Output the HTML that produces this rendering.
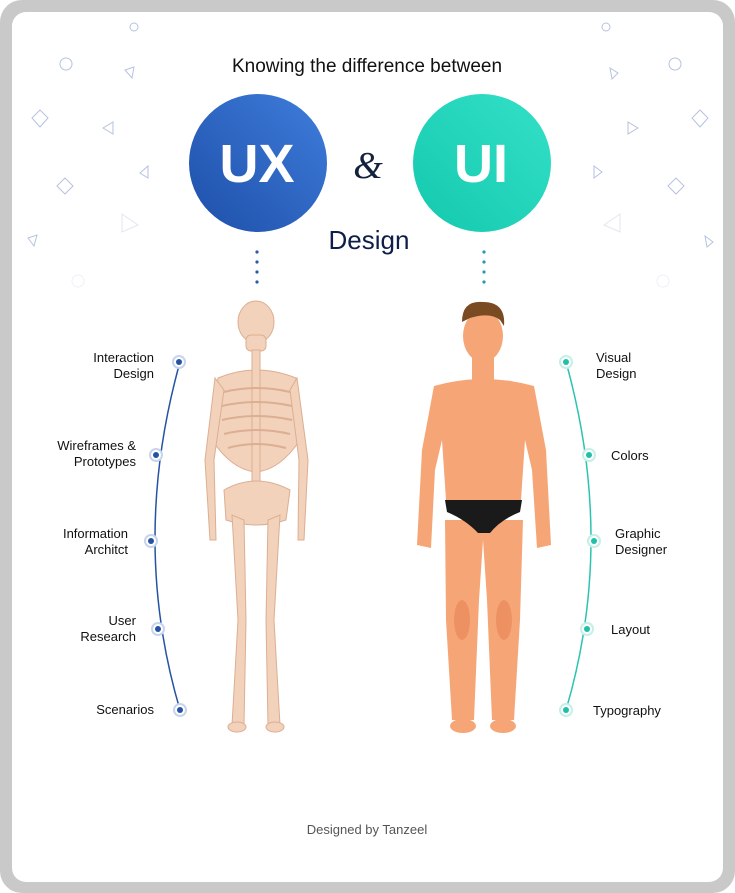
<!DOCTYPE html>
<html><head><meta charset="utf-8"><style>
html,body{margin:0;padding:0;background:#fff}
body{width:735px;height:893px;overflow:hidden;position:relative;font-family:"Liberation Sans",sans-serif}
</style></head><body>
<svg width="735" height="893" viewBox="0 0 735 893" xmlns="http://www.w3.org/2000/svg" style="position:absolute;left:0;top:0">
<defs>
<linearGradient id="gux" x1="1" y1="0" x2="0" y2="1"><stop offset="0" stop-color="#3f7ddc"/><stop offset="1" stop-color="#1d4fa8"/></linearGradient>
<linearGradient id="gui" x1="1" y1="0" x2="0" y2="1"><stop offset="0" stop-color="#33e0c8"/><stop offset="1" stop-color="#14c9ad"/></linearGradient>
</defs>
<rect x="0" y="0" width="735" height="893" rx="22" fill="#c9c9c9"/>
<rect x="12" y="12" width="711" height="870" rx="14" fill="#fff"/>
<g fill="none" stroke="#b5c2e0" stroke-width="1">
<circle cx="134" cy="27" r="4"/><circle cx="606" cy="27" r="4"/>
<circle cx="66" cy="64" r="6"/><circle cx="675" cy="64" r="6"/>
<path d="M125 70 L134 67 L132 78 Z"/><path d="M610 68 L618 73 L612 79 Z"/>
<path d="M40 110 L48 118 L40 127 L32 118 Z"/><path d="M700 110 L708 118 L700 127 L692 118 Z"/>
<path d="M103 128 L113 122 L113 134 Z"/><path d="M628 122 L638 128 L628 134 Z"/>
<path d="M65 178 L73 186 L65 194 L57 186 Z"/><path d="M676 178 L684 186 L676 194 L668 186 Z"/>
<path d="M140 173 L148 166 L148 178 Z"/><path d="M594 166 L602 172 L594 178 Z"/>
<path d="M122 214 L138 225 L122 232 Z" stroke="#e2e6f2"/><path d="M620 214 L604 225 L620 232 Z" stroke="#e2e6f2"/>
<path d="M28 238 L37 235 L34 246 Z"/><path d="M705 236 L713 242 L707 247 Z"/>
<circle cx="78" cy="281" r="6" stroke="#eef0f5"/><circle cx="663" cy="281" r="6" stroke="#eef0f5"/>
</g>
<text x="367" y="72" text-anchor="middle" font-size="19" fill="#111">Knowing the difference between</text>
<circle cx="258" cy="163" r="69" fill="url(#gux)"/>
<circle cx="482" cy="163" r="69" fill="url(#gui)"/>
<text x="257" y="182" text-anchor="middle" font-size="54" font-weight="bold" fill="#fff">UX</text>
<text x="481" y="182" text-anchor="middle" font-size="54" font-weight="bold" fill="#fff">UI</text>
<text x="368" y="178" text-anchor="middle" font-size="38" font-style="italic" fill="#14213d" font-family="Liberation Serif, serif">&amp;</text>
<text x="369" y="249" text-anchor="middle" font-size="26" fill="#0f1d4a">Design</text>
<g fill="#2a5aa8"><circle cx="257" cy="252" r="1.6"/><circle cx="257" cy="262" r="1.6"/><circle cx="257" cy="272" r="1.6"/><circle cx="257" cy="282" r="1.6"/></g>
<g fill="#2a9ab0"><circle cx="484" cy="252" r="1.6"/><circle cx="484" cy="262" r="1.6"/><circle cx="484" cy="272" r="1.6"/><circle cx="484" cy="282" r="1.6"/></g>

<path d="M180 362 Q130 541 180 710" fill="none" stroke="#2553a3" stroke-width="1.5"/>
<g fill="#fff" stroke="#c8d4ee" stroke-width="2">
<circle cx="179" cy="362" r="6"/><circle cx="156" cy="455" r="6"/><circle cx="151" cy="541" r="6"/><circle cx="158" cy="629" r="6"/><circle cx="180" cy="710" r="6"/></g>
<g fill="#2553a3"><circle cx="179" cy="362" r="3"/><circle cx="156" cy="455" r="3"/><circle cx="151" cy="541" r="3"/><circle cx="158" cy="629" r="3"/><circle cx="180" cy="710" r="3"/></g>
<path d="M566 362 Q616 541 566 710" fill="none" stroke="#2cc4b0" stroke-width="1.5"/>
<g fill="#fff" stroke="#c6efe8" stroke-width="2">
<circle cx="566" cy="362" r="6"/><circle cx="589" cy="455" r="6"/><circle cx="594" cy="541" r="6"/><circle cx="587" cy="629" r="6"/><circle cx="566" cy="710" r="6"/></g>
<g fill="#20c0a8"><circle cx="566" cy="362" r="3"/><circle cx="589" cy="455" r="3"/><circle cx="594" cy="541" r="3"/><circle cx="587" cy="629" r="3"/><circle cx="566" cy="710" r="3"/></g>

<g font-size="13" fill="#111">
<text x="154" y="362" text-anchor="end">Interaction</text><text x="154" y="378" text-anchor="end">Design</text>
<text x="136" y="450" text-anchor="end">Wireframes &amp;</text><text x="136" y="466" text-anchor="end">Prototypes</text>
<text x="128" y="538" text-anchor="end">Information</text><text x="128" y="554" text-anchor="end">Architct</text>
<text x="136" y="625" text-anchor="end">User</text><text x="136" y="641" text-anchor="end">Research</text>
<text x="154" y="714" text-anchor="end">Scenarios</text>
<text x="596" y="362">Visual</text><text x="596" y="378">Design</text>
<text x="611" y="460">Colors</text>
<text x="615" y="538">Graphic</text><text x="615" y="554">Designer</text>
<text x="611" y="634">Layout</text>
<text x="593" y="715">Typography</text>
</g>

<g fill="#f2d2bb" stroke="#dcae92" stroke-width="1">
<ellipse cx="256" cy="322" rx="18" ry="21"/>
<rect x="246" y="335" width="20" height="16" rx="5"/>
<path d="M218 378 Q256 362 296 378 L300 440 Q280 470 256 472 Q232 470 212 440 Z"/>
<rect x="252" y="350" width="8" height="140"/>
<path d="M224 490 Q256 472 290 490 L286 520 Q256 530 226 520 Z"/>
<path d="M215 378 L205 460 L210 540 L216 540 L214 460 L224 390 Z"/>
<path d="M297 378 L308 460 L304 540 L298 540 L299 460 L290 390 Z"/>
<path d="M232 515 L238 620 L232 725 L244 725 L246 620 L244 520 Z"/>
<path d="M280 515 L274 620 L280 725 L268 725 L266 620 L268 520 Z"/>
<ellipse cx="237" cy="727" rx="9" ry="5"/><ellipse cx="275" cy="727" rx="9" ry="5"/>
</g>
<g stroke="#dcae92" stroke-width="2" fill="none">
<path d="M224 392 Q256 384 290 392"/><path d="M222 406 Q256 398 292 406"/><path d="M222 420 Q256 412 292 420"/><path d="M224 434 Q256 426 290 434"/><path d="M228 448 Q256 440 286 448"/>
</g>

<g fill="#f6a676">
<path d="M434 386 Q483 372 534 386 L546 450 L551 545 L537 548 L532 470 L525 440 L521 500 L446 500 L442 440 L435 470 L431 548 L417 545 L422 450 Z"/>
<rect x="472" y="350" width="22" height="30"/>
<ellipse cx="483" cy="336" rx="20" ry="26"/>
<path d="M445 520 L523 520 L520 620 L514 720 L492 720 L487 600 L483 540 L479 600 L474 720 L452 720 L446 620 Z"/>
<ellipse cx="463" cy="726" rx="13" ry="7"/><ellipse cx="503" cy="726" rx="13" ry="7"/>
</g>
<path d="M462 322 Q462 300 483 302 Q506 302 504 326 L500 320 Q490 312 470 318 Z" fill="#7a4a22"/>
<path d="M445 500 L522 500 L520 512 Q500 520 490 533 L478 533 Q466 520 447 512 Z" fill="#1a1a1a"/>
<g fill="#ec8d5e" opacity="0.8"><ellipse cx="462" cy="620" rx="8" ry="20"/><ellipse cx="504" cy="620" rx="8" ry="20"/></g>

<text x="367" y="834" text-anchor="middle" font-size="13" fill="#555">Designed by Tanzeel</text>
</svg>
</body></html>
